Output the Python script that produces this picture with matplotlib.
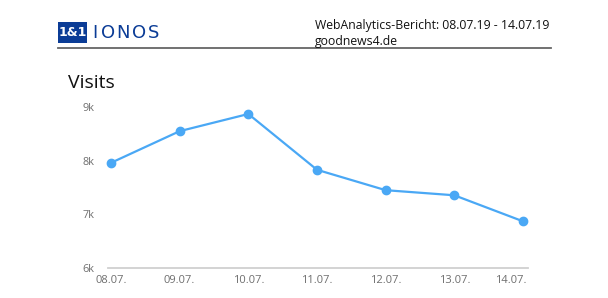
import matplotlib
matplotlib.use("Agg")
import matplotlib.pyplot as plt
from matplotlib.patches import Rectangle
import matplotlib.transforms as mtransforms

dates = ['08.07.', '09.07.', '10.07.', '11.07.', '12.07.', '13.07.', '14.07.']
visits = [7960, 8550, 8870, 7830, 7450, 7355, 6870]
y_ticks = [6000, 7000, 8000, 9000]
y_tick_labels = ['6k', '7k', '8k', '9k']

W, H = 608, 298
fig = plt.figure(figsize=(W / 100, H / 100), dpi=100)
fig.patch.set_facecolor('white')

def fx(x):
    return x / W

def fy(y):
    return 1 - y / H

# Header
fig.patches.append(Rectangle((fx(58), fy(43)), fx(29), 21 / H, transform=fig.transFigure,
                             facecolor='#0b3c96', edgecolor='none'))
fig.text(fx(72.5), fy(33), '1&1', color='white', fontsize=9, fontweight='bold',
         family='DejaVu Sans', ha='center', va='center')
for ch, cx in zip('IONOS', [95, 108, 123, 139, 154]):
    fig.text(fx(cx), fy(33), ch, color='#0b3c96', fontsize=13,
             family='DejaVu Sans', ha='center', va='center')
fig.text(fx(315), fy(25), 'WebAnalytics-Bericht: 08.07.19 - 14.07.19', fontsize=8.8,
         family='Open Sans', color='#111111', ha='left', va='center')
fig.text(fx(315), fy(41), 'goodnews4.de', fontsize=8.8,
         family='Open Sans', color='#111111', ha='left', va='center')
fig.lines.append(plt.Line2D([fx(58), fx(551)], [fy(48), fy(48)], transform=fig.transFigure,
                            color='#666666', linewidth=1.3))

# Title
fig.text(fx(68), fy(83), 'Visits', fontsize=14, family='Open Sans', color='#111111',
         ha='left', va='center')

# Axes
ax = fig.add_axes([fx(108), fy(268), (528 - 108) / W, (268 - 107) / H])
x = list(range(len(dates)))
ax.plot(x, visits, color='#4aa8f5', linewidth=1.6, marker='o', markersize=6,
        clip_on=False, zorder=3)
ax.set_xlim(-0.044, 6.073)
ax.set_ylim(6000, 9000)
ax.set_yticks(y_ticks)
ax.set_yticklabels(y_tick_labels)
ax.set_xticks(x)
ax.set_xticklabels(dates)
for s in ['top', 'right', 'left']:
    ax.spines[s].set_visible(False)
ax.spines['bottom'].set_color('#d0d0d0')
ax.spines['bottom'].set_linewidth(1.3)
ax.tick_params(axis='both', length=0, colors='#6e6e6e')
ax.tick_params(axis='y', labelsize=7.8, pad=10)
ax.tick_params(axis='x', labelsize=8, pad=5)
for lab in ax.get_yticklabels() + ax.get_xticklabels():
    lab.set_family('Open Sans')
last = ax.get_xticklabels()[-1]
last.set_ha('right')
last.set_transform(last.get_transform() + mtransforms.ScaledTranslation(4 / 100, 0, fig.dpi_scale_trans))

fig.savefig('out.png', dpi=100, facecolor='white')
